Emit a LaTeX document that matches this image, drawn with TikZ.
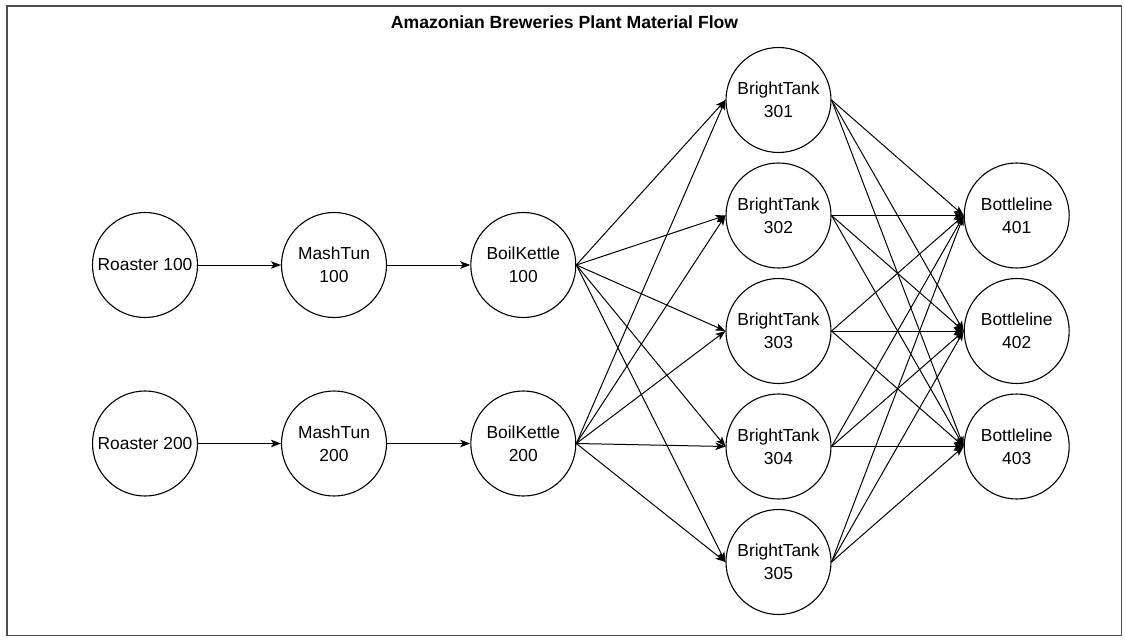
\documentclass[tikz,border=0pt]{standalone}
\usepackage{fontspec}
\setmainfont{Liberation Sans}
\usetikzlibrary{arrows.meta}
\begin{document}
\begin{tikzpicture}[x=1pt,y=-1pt,
  unit/.style={draw=black,line width=1.1pt,circle,minimum size=105pt,inner sep=0pt,align=center,
    font=\fontsize{17.4}{22.6}\selectfont},
  flow/.style={line width=1pt,-{Stealth[length=10pt,width=7.5pt,inset=2.5pt]}},
  frame/.style={draw=black!70,line width=1.4pt}
]
\useasboundingbox (0,0) rectangle (1125,642);
\draw[frame] (7,6) rectangle (1121.5,635.5);
\node[font=\bfseries\fontsize{17.6}{20}\selectfont] (title) at (564.5,22) {Amazonian Breweries Plant Material Flow};

\node[unit] (r1) at (145,265) {Roaster 100};
\node[unit] (r2) at (145,443.5) {Roaster 200};
\node[unit] (m1) at (334,265) {MashTun\\100};
\node[unit] (m2) at (334,443.5) {MashTun\\200};
\node[unit] (bk1) at (523.3,265) {BoilKettle\\100};
\node[unit] (bk2) at (523.3,443.5) {BoilKettle\\200};

\node[unit] (bt1) at (778.5,100) {BrightTank\\301};
\node[unit] (bt2) at (778.5,215.5) {BrightTank\\302};
\node[unit] (bt3) at (778.5,331) {BrightTank\\303};
\node[unit] (bt4) at (778.5,446.5) {BrightTank\\304};
\node[unit] (bt5) at (778.5,562) {BrightTank\\305};

\node[unit] (bl1) at (1016.7,215.5) {Bottleline\\401};
\node[unit] (bl2) at (1016.7,331) {Bottleline\\402};
\node[unit] (bl3) at (1016.7,446.5) {Bottleline\\403};

\draw[flow] (r1.east) -- (m1.west);
\draw[flow] (m1.east) -- (bk1.west);
\draw[flow] (r2.east) -- (m2.west);
\draw[flow] (m2.east) -- (bk2.west);

\foreach \s in {bk1,bk2}{
  \foreach \t in {bt1,bt2,bt3,bt4,bt5}{
    \draw[flow] (\s.east) -- (\t.west);
  }
}
\foreach \s in {bt1,bt2,bt3,bt4,bt5}{
  \foreach \t in {bl1,bl2,bl3}{
    \draw[flow] (\s.east) -- (\t.west);
  }
}
\end{tikzpicture}
\end{document}
